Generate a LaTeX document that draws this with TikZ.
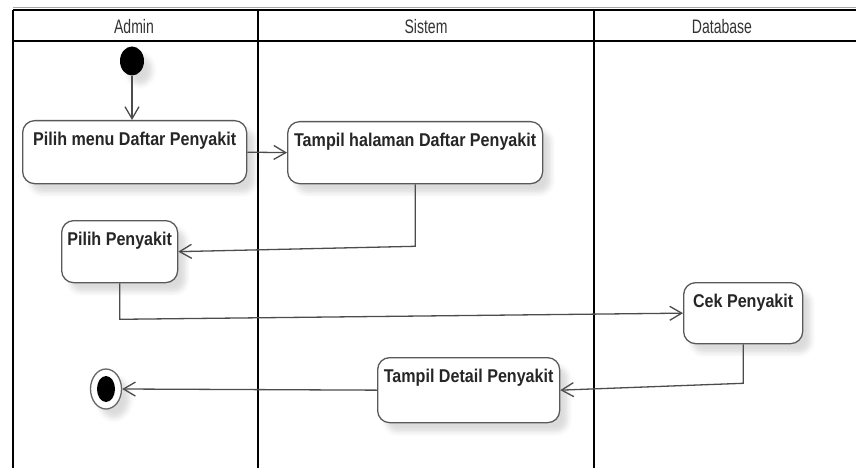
\documentclass[tikz,border=0pt]{standalone}
\usepackage{fontspec}
\setmainfont{Liberation Sans}
\newfontfamily\nodefont[FakeStretch=0.87]{Liberation Sans}
\newfontfamily\lanefont[FakeStretch=0.72]{Liberation Sans}
\usetikzlibrary{arrows.meta,shadows.blur,shapes.geometric}

\begin{document}
\begin{tikzpicture}[x=1pt,y=-1pt,
  lane/.style={line width=2pt, draw=black},
  lanetitle/.style={font=\lanefont\fontsize{19.5}{21}\selectfont, text=black!80, inner sep=0pt},
  soft/.style={blur shadow={shadow xshift=8pt, shadow yshift=-9pt,
      shadow blur radius=5pt, shadow opacity=14}},
  action/.style n args={2}{draw=black!65, line width=1.3pt, rounded corners=12pt,
      fill=white, soft, anchor=north west, align=center,
      font=\nodefont\bfseries\fontsize{18.5}{20}\selectfont, text=black!85,
      inner xsep=0pt, inner ysep=12pt, text height=13pt, text depth=#2-37pt,
      minimum width=#1, minimum height=#2},
  flow/.style={draw=black!70, line width=1.3pt,
      -{Straight Barb[length=12pt,width=14pt,line width=1.3pt]}}]

\useasboundingbox (0,0) rectangle (856,468);

% swimlane frame
\draw[line width=1pt, black!35] (13,8) -- (856,8);
\draw[lane, line width=2.5pt] (13,10) -- (856,10);
\draw[lane, line width=2.5pt] (13,41) -- (856,41);
\draw[lane] (13,10) -- (13,468);
\draw[lane] (258,10) -- (258,468);
\draw[lane] (594,10) -- (594,468);

\node[lanetitle] (tadmin) at (134,26.5) {Admin};
\node[lanetitle] (tsistem) at (426,26.5) {Sistem};
\node[lanetitle] (tdb) at (722,26.5) {Database};

% start and end states
\node[ellipse, fill=black, inner sep=0pt, minimum width=24pt, minimum height=29pt, soft]
  (start) at (132,61) {};
\node[ellipse, draw=black!60, line width=1.3pt, fill=white, inner sep=0pt,
  minimum width=31pt, minimum height=40pt, soft] (stop) at (106,389) {};
\node[ellipse, fill=black, inner sep=0pt, minimum width=18pt, minimum height=26pt]
  (stopdot) at (stop.center) {};

% actions
\node[action={224pt}{63pt}] (n1) at (22,120) {Pilih menu Daftar Penyakit};
\node[action={255pt}{62pt}] (n2) at (287,121) {Tampil halaman Daftar Penyakit};
\node[action={116pt}{62pt}] (n3) at (61,220) {Pilih Penyakit};
\node[action={119pt}{61pt}] (n4) at (683,282) {Cek Penyakit};
\node[action={182pt}{65pt}] (n5) at (377,357) {Tampil Detail Penyakit};

% control flow
\draw[flow] (start.south) -- (start.south |- n1.north);
\draw[flow] (n1.east) -- (n2.west);
\draw[flow] (n2.south) -- ++(0,62) -- (n3.east);
\draw[flow] (n3.south) -- ++(0,36) -- (n4.west);
\draw[flow] (n4.south) -- ++(0,39) -- (n5.east);
\draw[flow] (n5.west) -- (stop.east);
\end{tikzpicture}
\end{document}
